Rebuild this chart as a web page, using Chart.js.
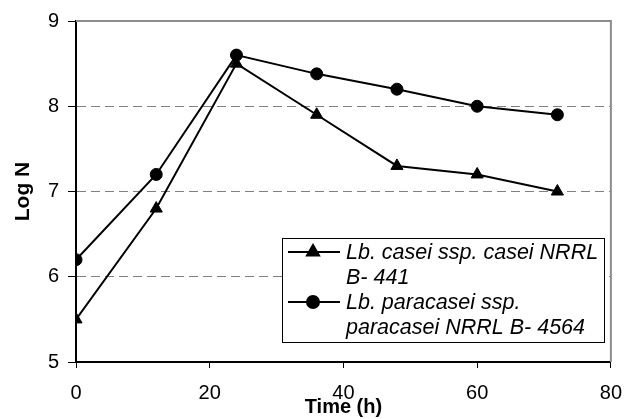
<!DOCTYPE html>
<html>
<head>
<meta charset="utf-8">
<script src="https://cdn.jsdelivr.net/npm/chart.js@4.4.1/dist/chart.umd.min.js"></script>
<style>
  html, body { margin: 0; padding: 0; background: #fff; }
</style>
</head>
<body>
<canvas id="chartLogN" width="635" height="419"></canvas>
<script>
// data
const hours = [0, 12, 24, 36, 48, 60, 72];
const caseiLogN = [5.5, 6.8, 8.5, 7.9, 7.3, 7.2, 7.0];
const paracaseiLogN = [6.2, 7.2, 8.6, 8.38, 8.2, 8.0, 7.9];
const xTicks = [0, 20, 40, 60, 80];
const yTicks = [5, 6, 7, 8, 9];
const caseiLegend = ["Lb. casei ssp. casei NRRL", "B- 441"];
const paracaseiLegend = ["Lb. paracasei ssp.", "paracasei NRRL B- 4564"];

const FONT = "'Liberation Sans', Arial, sans-serif";

// grey frame on top and right of the plot area
const framePlugin = {
  id: "frame",
  beforeDatasetsDraw(chart) {
    const { ctx, chartArea: a } = chart;
    ctx.save();
    ctx.strokeStyle = "#8c8c8c";
    ctx.lineWidth = 2;
    ctx.beginPath();
    ctx.moveTo(a.left, a.top);
    ctx.lineTo(a.right, a.top);
    ctx.lineTo(a.right, a.bottom);
    ctx.stroke();
    ctx.restore();
  }
};

// boxed legend with wrapped italic labels
const boxLegend = {
  id: "boxLegend",
  afterDraw(chart) {
    const { ctx } = chart;
    const x = 282, y = 238, w = 322, h = 104;
    ctx.save();
    ctx.fillStyle = "#fff";
    ctx.fillRect(x, y, w, h);
    ctx.strokeStyle = "#000";
    ctx.lineWidth = 1;
    ctx.strokeRect(x + 0.5, y + 0.5, w, h);

    const items = [
      { lines: caseiLegend, style: "triangle", r: 7, ly: 252 },
      { lines: paracaseiLegend, style: "circle", r: 6, ly: 302 }
    ];
    ctx.font = "italic 21.5px " + FONT;
    ctx.textBaseline = "middle";
    items.forEach(it => {
      ctx.strokeStyle = "#000";
      ctx.lineWidth = 2;
      ctx.beginPath();
      ctx.moveTo(288, it.ly);
      ctx.lineTo(340, it.ly);
      ctx.stroke();
      ctx.fillStyle = "#000";
      Chart.helpers.drawPoint(ctx, { pointStyle: it.style, radius: it.r, borderWidth: 1 }, 313, it.ly);
      ctx.fill();
      it.lines.forEach((t, i) => ctx.fillText(t, 346, it.ly + 1 + i * 25));
    });
    ctx.restore();
  }
};

new Chart(document.getElementById("chartLogN"), {
  type: "line",
  data: {
    datasets: [
      {
        label: caseiLegend.join(" "),
        data: hours.map((h, i) => ({ x: h, y: caseiLogN[i] })),
        borderColor: "#000",
        backgroundColor: "#000",
        borderWidth: 2,
        pointStyle: "triangle",
        pointRadius: 7,
        pointBorderWidth: 1
      },
      {
        label: paracaseiLegend.join(" "),
        data: hours.map((h, i) => ({ x: h, y: paracaseiLogN[i] })),
        borderColor: "#000",
        backgroundColor: "#000",
        borderWidth: 2,
        pointStyle: "circle",
        pointRadius: 6,
        pointBorderWidth: 1
      }
    ]
  },
  options: {
    responsive: false,
    animation: false,
    layout: { padding: { left: 0, right: 23, top: 20, bottom: 0 } },
    plugins: { legend: { display: false }, tooltip: { enabled: false } },
    scales: {
      x: {
        type: "linear",
        min: 0,
        max: 80,
        afterBuildTicks: s => { s.ticks = xTicks.map(v => ({ value: v })); },
        afterFit: s => { s.height = 57; },
        ticks: { color: "#000", font: { family: FONT, size: 20 }, padding: 13 },
        grid: { drawOnChartArea: false, tickLength: 6, tickColor: "#000", tickWidth: 1 },
        border: { color: "#000", width: 2 },
        title: {
          display: true,
          text: "Time (h)",
          color: "#000",
          font: { family: FONT, size: 20, weight: "bold" },
          padding: { top: 0, bottom: 0 }
        }
      },
      y: {
        min: 5,
        max: 9,
        afterBuildTicks: s => { s.ticks = yTicks.map(v => ({ value: v })); },
        afterFit: s => { s.width = 76; },
        ticks: { color: "#000", font: { family: FONT, size: 20 }, padding: 9 },
        grid: {
          color: c => (c.tick && (c.tick.value === 5 || c.tick.value === 9)) ? "rgba(0,0,0,0)" : "#808080",
          lineWidth: 1,
          tickLength: 8,
          tickColor: "#000",
          tickWidth: 1
        },
        border: { color: "#000", width: 2, dash: [9, 5] },
        title: {
          display: true,
          text: "Log N",
          color: "#000",
          font: { family: FONT, size: 21, weight: "bold" },
          padding: { top: 11, bottom: 0 }
        }
      }
    }
  },
  plugins: [framePlugin, boxLegend]
});
</script>
</body>
</html>
